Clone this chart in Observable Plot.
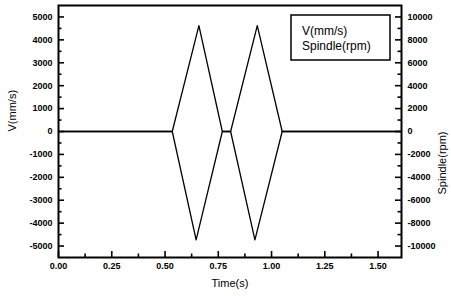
<!DOCTYPE html>
<html><head><meta charset="utf-8">
<script src="https://cdn.jsdelivr.net/npm/d3@7"></script>
<script src="https://cdn.jsdelivr.net/npm/@observablehq/plot@0.6"></script>
<style>body{margin:0;background:#fff;} svg{display:block;}</style>
</head><body><div id="chart"></div>
<script>
const timeV = [0, 0.534, 0.659, 0.769, 0.808, 0.933, 1.050, 1.61];
const velocity = [0, 0, 4620, 0, 0, 4620, 0, 0];
const timeS = [0, 0.534, 0.646, 0.769, 0.808, 0.922, 1.050, 1.61];
const spindle = [0, 0, -9460, 0, 0, -9460, 0, 0];
const xTicks = [0, 0.25, 0.5, 0.75, 1.0, 1.25, 1.5];
const xMinor = [0.125, 0.375, 0.625, 0.875, 1.125, 1.375];
const vTicks = [-5000, -4000, -3000, -2000, -1000, 0, 1000, 2000, 3000, 4000, 5000];
const vMinor = [-4500, -3500, -2500, -1500, -500, 500, 1500, 2500, 3500, 4500];
const rpmTicks = [-10000, -8000, -6000, -4000, -2000, 0, 2000, 4000, 6000, 8000, 10000];
const rpmPerV = 2;
const legendItems = ["V(mm/s)", "Spindle(rpm)"];

const vData = timeV.map((t, i) => ({t, y: velocity[i]}));
const sData = timeS.map((t, i) => ({t, y: spindle[i] / rpmPerV}));

const W = 451, H = 296, mL = 58, mR = 50, mT = 5, mB = 39;
const fw = W - mL - mR, fh = H - mT - mB;
const xDom = [0, 1.61], yDom = [-5500, 5500];
const xs = d3.scaleLinear(xDom, [mL, W - mR]);
const ys = d3.scaleLinear(yDom, [H - mB, mT]);
const pxX = n => xs.invert(mL + n) - xDom[0];
const pxY = n => ys.invert(H - mB - n) - yDom[0];
const font = "'Liberation Sans', Arial, sans-serif";
const tk = {stroke: "#000", strokeWidth: 1.6};
const rpmPos = rpmTicks.map(d => d / rpmPerV);
const plot = Plot.plot({
  width: W, height: H,
  marginLeft: mL, marginRight: mR, marginTop: mT, marginBottom: mB,
  style: {fontFamily: font, fontSize: "9px", color: "#000", background: "#fff"},
  x: {domain: xDom},
  y: {domain: yDom},
  marks: [
    Plot.axisX(xTicks, {anchor: "bottom", tickSize: 0, tickPadding: 5, tickFormat: d3.format(".2f"), label: null, fontWeight: "bold"}),
    Plot.axisY(vTicks, {anchor: "left", tickSize: 0, tickPadding: 6, tickFormat: d => String(d), label: null, fontWeight: "bold"}),
    Plot.axisY(rpmPos, {anchor: "right", tickSize: 0, tickPadding: 6, tickFormat: d => String(d * rpmPerV), label: null, fontWeight: "bold"}),
    Plot.ruleX(xTicks, {x: d => d, y1: yDom[0], y2: yDom[0] + pxY(6), ...tk}),
    Plot.ruleX(xMinor, {x: d => d, y1: yDom[0], y2: yDom[0] + pxY(3.5), ...tk}),
    Plot.ruleY(vTicks, {y: d => d, x1: xDom[0], x2: xDom[0] + pxX(6), ...tk}),
    Plot.ruleY(vMinor, {y: d => d, x1: xDom[0], x2: xDom[0] + pxX(3.5), ...tk}),
    Plot.ruleY(rpmPos, {y: d => d, x1: xDom[1] - pxX(6), x2: xDom[1], ...tk}),
    Plot.ruleY(vMinor, {y: d => d, x1: xDom[1] - pxX(3.5), x2: xDom[1], ...tk}),
    Plot.line(vData, {x: "t", y: "y", stroke: "#000", strokeWidth: 1.3}),
    Plot.line(sData, {x: "t", y: "y", stroke: "#000", strokeWidth: 1.3}),
    Plot.frame({stroke: "#000", strokeWidth: 2}),
    Plot.text(["V(mm/s)"], {frameAnchor: "left", dx: -46, rotate: -90, fontSize: 11}),
    Plot.text(["Spindle(rpm)"], {frameAnchor: "right", dx: 41, rotate: -90, fontSize: 11}),
    Plot.text(["Time(s)"], {frameAnchor: "bottom", dy: 29, fontSize: 11})
  ]
});
const svg = d3.select(plot);
const lg = svg.append("g").attr("text-anchor", "start");
lg.append("rect").attr("x", 291).attr("y", 15).attr("width", 99).attr("height", 45)
  .attr("fill", "#fff").attr("stroke", "#000").attr("stroke-width", 1.5);
legendItems.forEach((s, i) => {
  lg.append("text").attr("x", 302).attr("y", 35 + i * 15).attr("font-size", 12)
    .attr("text-anchor", "start")
    .attr("font-family", font).attr("fill", "#000").text(s);
});
document.getElementById("chart").appendChild(plot);
</script></body></html>
